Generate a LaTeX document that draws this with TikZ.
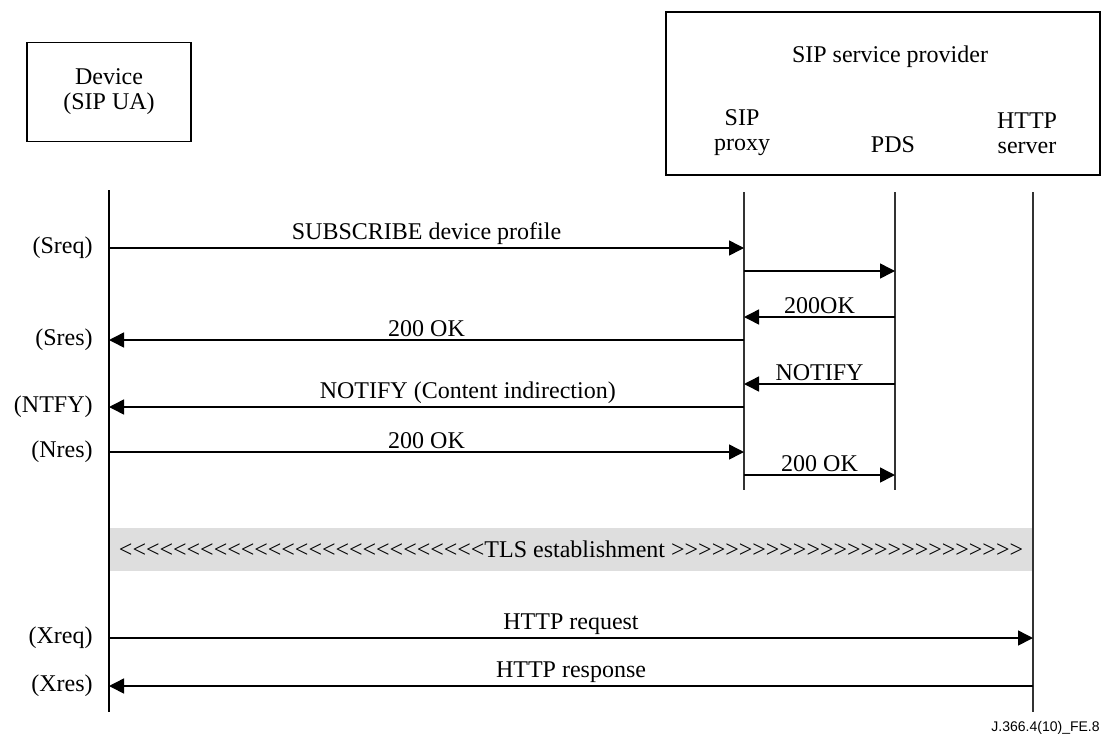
\documentclass[tikz,border=0pt]{standalone}
\usepackage{fontspec}
\setmainfont{Liberation Serif}
\newfontfamily\arialfont{Liberation Sans}
\usepackage{xcolor}
\usetikzlibrary{arrows.meta, positioning, calc}
\newcommand\deretkiri{\foreach\i in {1,...,27}{\char60\kern0pt}}
\newcommand\deretkanan{\foreach\i in {1,...,26}{\char62\kern0pt}}

\begin{document}
\begin{tikzpicture}[
    x=0.5pt, y=-0.5pt,
    font=\fontsize{12}{12.5}\selectfont,
    kotak/.style={draw, line width=0.6pt, align=center},
    garis/.style={line width=0.75pt, black!80},
    pesan/.style={-{Triangle[length=7.5pt, width=7.5pt]}, line width=0.75pt},
    lbl/.style={above=1.5pt, inner sep=0pt},
    kiri/.style={anchor=east, inner sep=0pt}
  ]
    \useasboundingbox (0,0) rectangle (1108,740);

    % entitas
    \node[kotak, minimum width=82pt, minimum height=49.5pt] (device) at (109,92) {Device\\(SIP UA)};
    \node[kotak, minimum width=217pt, minimum height=81.5pt] (prov) at (883,93.5) {};
    \node (provname) at (890,57) {SIP service provider};
    \node[align=center] (proxyname) at (742,133) {SIP\\proxy};
    \node (pdsname) at (893,145) {PDS};
    \node[align=center] (httpname) at (1027,133) {HTTP\\server};

    % garis hidup
    \coordinate (dev) at (109,190);
    \coordinate (prx) at (744,192);
    \coordinate (pds) at (895,192);
    \coordinate (http) at (1033,192);
    \coordinate (devend) at (109,712);
    \coordinate (prxend) at (744,490);
    \coordinate (pdsend) at (895,490);
    \coordinate (httpend) at (1033,712);

    % pita TLS
    \node[fill=black!13, minimum width=462pt, minimum height=21.5pt, inner sep=0pt] (tls) at (571,549.5)
      {\deretkiri TLS establishment \deretkanan};

    \draw[garis, black] (dev) -- (devend);
    \draw[garis] (prx) -- (prxend);
    \draw[garis] (pds) -- (pdsend);
    \draw[garis] (http) -- (httpend);

    % label kiri
    \node[kiri] (sreq) at (93,248) {(Sreq)};
    \node[kiri] (sres) at (93,340) {(Sres)};
    \node[kiri] (ntfy) at (93,407) {(NTFY)};
    \node[kiri] (nres) at (93,452) {(Nres)};
    \node[kiri] (xreq) at (93,638) {(Xreq)};
    \node[kiri] (xres) at (93,686) {(Xres)};
    \coordinate (fwd1) at (0,271);
    \coordinate (ok1) at (0,317);
    \coordinate (notif) at (0,384);
    \coordinate (ok2) at (0,475);

    % pesan
    \draw[pesan] (dev |- sreq) -- node[lbl] {SUBSCRIBE device profile} (prx |- sreq);
    \draw[pesan] (prx |- fwd1) -- (pds |- fwd1);
    \draw[pesan] (pds |- ok1) -- node[lbl] {200OK} (prx |- ok1);
    \draw[pesan] (prx |- sres) -- node[lbl] {200 OK} (dev |- sres);
    \draw[pesan] (pds |- notif) -- node[lbl] {NOTIFY} (prx |- notif);
    \draw[pesan] (prx |- ntfy) -- node[lbl, pos=0.435] {NOTIFY (Content indirection)} (dev |- ntfy);
    \draw[pesan] (dev |- nres) -- node[lbl] {200 OK} (prx |- nres);
    \draw[pesan] (prx |- ok2) -- node[lbl] {200 OK} (pds |- ok2);
    \draw[pesan] (dev |- xreq) -- node[lbl] {HTTP request} (http |- xreq);
    \draw[pesan] (http |- xres) -- node[lbl] {HTTP response} (dev |- xres);

    \node[anchor=east, inner sep=0pt, font=\arialfont\fontsize{7}{8}\selectfont] (figid) at (1100,728) {J.366.4(10)\_FE.8};
  \end{tikzpicture}
\end{document}
